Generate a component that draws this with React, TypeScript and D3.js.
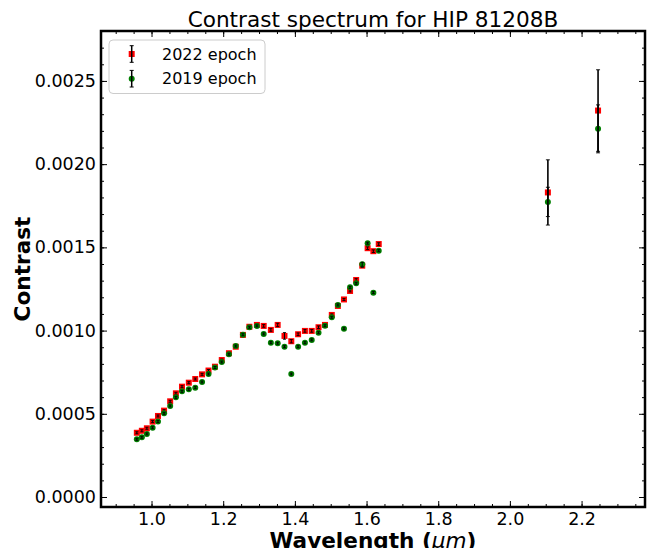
import React, { useEffect, useRef } from 'react';
import * as d3 from 'd3';

// IFS channels (um) + IRDIS K1/K2
const wavelengths = [
  0.959, 0.973, 0.987, 1.003, 1.018, 1.035, 1.052, 1.068, 1.085, 1.104,
  1.122, 1.141, 1.159, 1.177, 1.196, 1.216, 1.235, 1.255, 1.273, 1.294,
  1.313, 1.333, 1.352, 1.371, 1.390, 1.409, 1.428, 1.447, 1.466, 1.484,
  1.503, 1.520, 1.537, 1.554, 1.571, 1.588, 1.603, 1.619, 1.634,
  2.106, 2.246,
];

const contrast2022 = [
  0.000386, 0.000398, 0.000413, 0.000453, 0.000487, 0.000519, 0.000575, 0.000623, 0.000663, 0.000687,
  0.000709, 0.000737, 0.000760, 0.000783, 0.000823, 0.000864, 0.000903, 0.000974, 0.001023, 0.001034,
  0.001028, 0.001004, 0.001034, 0.000968, 0.000936, 0.000978, 0.000998, 0.000998, 0.001020, 0.001034,
  0.001094, 0.001148, 0.001187, 0.001238, 0.001304, 0.001390, 0.001495, 0.001477, 0.001520,
  0.001830, 0.002322,
];

const err2022 = [
  0.000006, 0.000006, 0.000006, 0.000006, 0.000006, 0.000006, 0.000006, 0.000006, 0.000006, 0.000006,
  0.000006, 0.000006, 0.000006, 0.000006, 0.000006, 0.000006, 0.000006, 0.000006, 0.000006, 0.000006,
  0.000008, 0.000008, 0.000010, 0.000020, 0.000010, 0.000008, 0.000008, 0.000008, 0.000008, 0.000008,
  0.000006, 0.000006, 0.000006, 0.000006, 0.000008, 0.000010, 0.000008, 0.000008, 0.000008,
  0.000196, 0.000245,
];

const contrast2019 = [
  0.000347, 0.000359, 0.000379, 0.000416, 0.000453, 0.000503, 0.000547, 0.000599, 0.000635, 0.000647,
  0.000657, 0.000691, 0.000739, 0.000778, 0.000811, 0.000858, 0.000907, 0.000975, 0.001020, 0.001028,
  0.000980, 0.000927, 0.000924, 0.000903, 0.000739, 0.000903, 0.000927, 0.000944, 0.000987, 0.001029,
  0.001080, 0.001154, 0.001011, 0.001260, 0.001284, 0.001398, 0.001525, 0.001228, 0.001480,
  0.001773, 0.002212,
];

const err2019 = [
  0.000006, 0.000006, 0.000006, 0.000006, 0.000006, 0.000006, 0.000006, 0.000006, 0.000006, 0.000006,
  0.000006, 0.000006, 0.000006, 0.000006, 0.000006, 0.000006, 0.000006, 0.000006, 0.000006, 0.000006,
  0.000006, 0.000006, 0.000006, 0.000006, 0.000006, 0.000006, 0.000006, 0.000006, 0.000006, 0.000006,
  0.000006, 0.000006, 0.000006, 0.000006, 0.000006, 0.000012, 0.000006, 0.000006, 0.000006,
  0.000088, 0.000144,
];

const xMajorTicks = [1.0, 1.2, 1.4, 1.6, 1.8, 2.0, 2.2];
const yMajorTicks = [0, 0.0005, 0.001, 0.0015, 0.002, 0.0025];

const series = [
  { label: '2022 epoch', values: contrast2022, errors: err2022, color: 'red', shape: 'square' },
  { label: '2019 epoch', values: contrast2019, errors: err2019, color: 'green', shape: 'circle' },
];

const W = 652;
const H = 548;
const FONT = 'DejaVu Sans, sans-serif';

const App = () => {
  const ref = useRef<SVGSVGElement>(null);

  useEffect(() => {
    const svg = d3.select(ref.current);
    svg.selectAll('*').remove();

    const left = 101, right = 645, top = 31, bottom = 507;

    const x = d3.scaleLinear().domain([0.859, 2.377]).range([left, right]);
    const y = d3.scaleLinear().domain([-0.00006, 0.0028]).range([bottom, top]);

    // minor ticks every 0.05 um / 0.0001
    const xMinor = d3.range(0.85, 2.38, 0.05).filter(v => v > 0.859 && v < 2.377);
    const yMinor = d3.range(0, 0.0028, 0.0001);

    const tickStyle = (g: any) => {
      g.select('.domain').remove();
      g.selectAll('line').attr('stroke', '#000').attr('stroke-width', 1);
      g.selectAll('text').attr('font-family', FONT).attr('font-size', 17.5).attr('fill', '#000');
    };

    // major + minor ticks, all four sides, pointing inward
    svg.append('g').attr('transform', `translate(0,${bottom})`)
      .call(d3.axisBottom(x).tickValues(xMinor).tickSize(-3).tickFormat(() => ''))
      .call(tickStyle);
    svg.append('g').attr('transform', `translate(0,${bottom})`)
      .call(d3.axisBottom(x).tickValues(xMajorTicks).tickSize(-6).tickPadding(6).tickFormat(d3.format('.1f')))
      .call(tickStyle);
    svg.append('g').attr('transform', `translate(0,${top})`)
      .call(d3.axisTop(x).tickValues(xMinor).tickSize(-3).tickFormat(() => ''))
      .call(tickStyle);
    svg.append('g').attr('transform', `translate(0,${top})`)
      .call(d3.axisTop(x).tickValues(xMajorTicks).tickSize(-6).tickFormat(() => ''))
      .call(tickStyle);

    svg.append('g').attr('transform', `translate(${left},0)`)
      .call(d3.axisLeft(y).tickValues(yMinor).tickSize(-3).tickFormat(() => ''))
      .call(tickStyle);
    svg.append('g').attr('transform', `translate(${left},0)`)
      .call(d3.axisLeft(y).tickValues(yMajorTicks).tickSize(-6).tickPadding(5).tickFormat(d3.format('.4f')))
      .call(tickStyle);
    svg.append('g').attr('transform', `translate(${right},0)`)
      .call(d3.axisRight(y).tickValues(yMinor).tickSize(-3).tickFormat(() => ''))
      .call(tickStyle);
    svg.append('g').attr('transform', `translate(${right},0)`)
      .call(d3.axisRight(y).tickValues(yMajorTicks).tickSize(-6).tickFormat(() => ''))
      .call(tickStyle);

    // data: markers first, then black error bars on top
    series.forEach(s => {
      const pts = wavelengths.map((w, i) => ({ w, v: s.values[i], e: s.errors[i] }));
      const g = svg.append('g');
      if (s.shape === 'square') {
        g.selectAll('rect').data(pts).join('rect')
          .attr('x', d => x(d.w) - 3).attr('y', d => y(d.v) - 3)
          .attr('width', 6).attr('height', 6)
          .attr('fill', s.color);
      } else {
        g.selectAll('circle').data(pts).join('circle')
          .attr('cx', d => x(d.w)).attr('cy', d => y(d.v)).attr('r', 3)
          .attr('fill', s.color);
      }
      const eb = svg.append('g').attr('stroke', '#000');
      pts.forEach(d => {
        const big = d.w > 2;
        const capW = big ? 2 : 1.5;
        const cx = x(d.w), y0 = y(d.v - d.e), y1 = y(d.v + d.e);
        eb.append('line').attr('x1', cx).attr('x2', cx).attr('y1', y0).attr('y2', y1).attr('stroke-width', big ? 1.6 : 1);
        eb.append('line').attr('x1', cx - capW).attr('x2', cx + capW).attr('y1', y0).attr('y2', y0).attr('stroke-width', 0.9);
        eb.append('line').attr('x1', cx - capW).attr('x2', cx + capW).attr('y1', y1).attr('y2', y1).attr('stroke-width', 0.9);
      });
    });

    // frame
    svg.append('rect')
      .attr('x', left).attr('y', top)
      .attr('width', right - left).attr('height', bottom - top)
      .attr('fill', 'none').attr('stroke', '#000').attr('stroke-width', 2.5);

    // legend
    const lg = svg.append('g');
    lg.append('rect')
      .attr('x', 109).attr('y', 40).attr('width', 156).attr('height', 53.5).attr('rx', 4)
      .attr('fill', 'white').attr('fill-opacity', 0.8).attr('stroke', '#cccccc').attr('stroke-width', 1);
    series.forEach((s, i) => {
      const cy = 54 + i * 24.7;
      const cx = 131.7;
      if (s.shape === 'square') {
        lg.append('rect').attr('x', cx - 3).attr('y', cy - 3).attr('width', 6).attr('height', 6).attr('fill', s.color);
      } else {
        lg.append('circle').attr('cx', cx).attr('cy', cy).attr('r', 3).attr('fill', s.color);
      }
      lg.append('line').attr('x1', cx).attr('x2', cx).attr('y1', cy - 8.3).attr('y2', cy + 8.3).attr('stroke', '#000').attr('stroke-width', 1.5);
      [cy - 8.3, cy + 8.3].forEach(yy => lg.append('line').attr('x1', cx - 2).attr('x2', cx + 2).attr('y1', yy).attr('y2', yy).attr('stroke', '#000').attr('stroke-width', 1));
      lg.append('text')
        .attr('x', 162).attr('y', cy).attr('dy', '0.35em')
        .attr('font-family', FONT).attr('font-size', 16)
        .text(s.label);
    });

    // title and axis labels
    svg.append('text')
      .attr('x', (left + right) / 2).attr('y', 27)
      .attr('text-anchor', 'middle')
      .attr('font-family', FONT).attr('font-size', 21.6)
      .text('Contrast spectrum for HIP 81208B');

    const xl = svg.append('text')
      .attr('x', (left + right) / 2).attr('y', 548)
      .attr('text-anchor', 'middle')
      .attr('font-family', FONT).attr('font-size', 21.6).attr('font-weight', 'bold');
    xl.append('tspan').text('Wavelength (');
    xl.append('tspan').attr('font-style', 'italic').attr('font-weight', 'normal').text('μm');
    xl.append('tspan').text(')');

    svg.append('text')
      .attr('transform', `translate(30,${(top + bottom) / 2}) rotate(-90)`)
      .attr('text-anchor', 'middle')
      .attr('font-family', FONT).attr('font-size', 21.6).attr('font-weight', 'bold')
      .text('Contrast');
  }, []);

  return (
    <svg
      ref={ref}
      width={W}
      height={H}
      style={{ position: 'absolute', left: 0, top: 0, background: 'white' }}
    />
  );
};

export default App;
